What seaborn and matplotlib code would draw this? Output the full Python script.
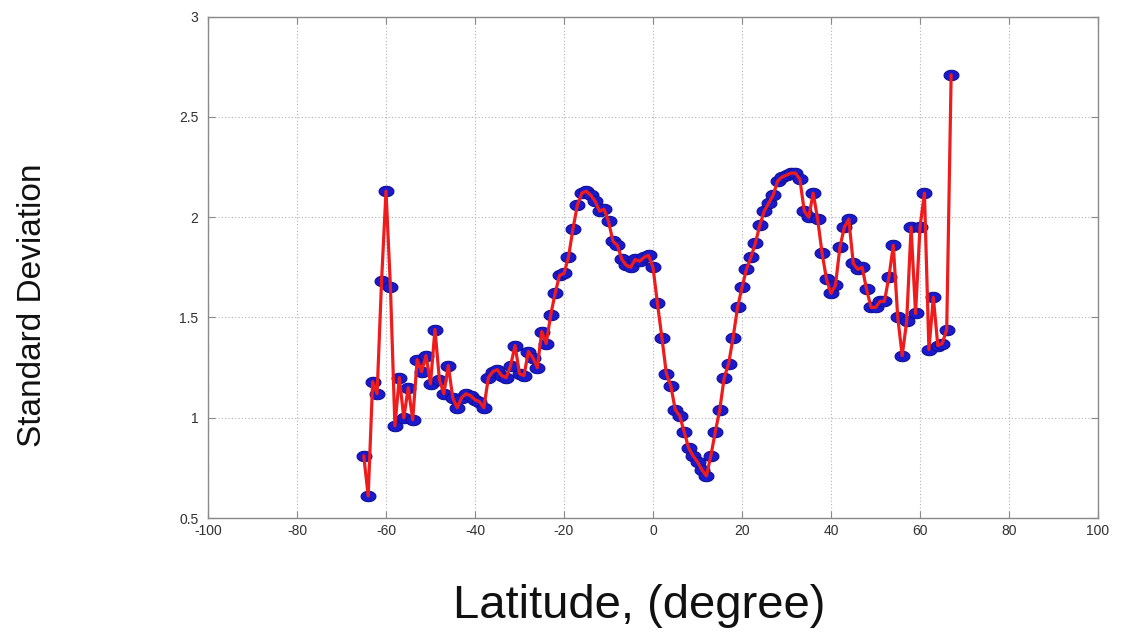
import numpy as np
import pandas as pd
import matplotlib
matplotlib.use("Agg")
import matplotlib.pyplot as plt
from matplotlib.path import Path
import seaborn as sns

latitude = [-65, -64, -63, -62, -61, -60, -59, -58, -57, -56, -55, -54, -53, -52, -51,
            -50, -49, -48, -47, -46, -45, -44, -43, -42, -41, -40, -39, -38, -37, -36,
            -35, -34, -33, -32, -31, -30, -29, -28, -27, -26, -25, -24, -23, -22, -21,
            -20, -19, -18, -17, -16, -15, -14, -13, -12, -11, -10, -9, -8, -7, -6,
            -5, -4, -3, -2, -1, 0, 1, 2, 3, 4, 5, 6, 7, 8, 9,
            10, 11, 12, 13, 14, 15, 16, 17, 18, 19, 20, 21, 22, 23, 24,
            25, 26, 27, 28, 29, 30, 31, 32, 33, 34, 35, 36, 37, 38, 39,
            40, 41, 42, 43, 44, 45, 46, 47, 48, 49, 50, 51, 52, 53, 54,
            55, 56, 57, 58, 59, 60, 61, 62, 63, 64, 65, 66, 67]

std_dev = [0.81, 0.61, 1.18, 1.12, 1.68, 2.13, 1.65, 0.96, 1.20, 1.00, 1.15, 0.99, 1.29, 1.23, 1.31,
           1.17, 1.44, 1.19, 1.12, 1.26, 1.10, 1.05, 1.10, 1.12, 1.11, 1.09, 1.08, 1.05, 1.20, 1.23,
           1.24, 1.21, 1.20, 1.26, 1.36, 1.22, 1.21, 1.33, 1.30, 1.25, 1.43, 1.37, 1.51, 1.62, 1.71,
           1.72, 1.80, 1.94, 2.06, 2.12, 2.13, 2.11, 2.08, 2.03, 2.04, 1.98, 1.88, 1.86, 1.79, 1.76,
           1.75, 1.79, 1.78, 1.80, 1.81, 1.75, 1.57, 1.40, 1.22, 1.16, 1.04, 1.01, 0.93, 0.85, 0.81,
           0.78, 0.74, 0.71, 0.81, 0.93, 1.04, 1.20, 1.27, 1.40, 1.55, 1.65, 1.74, 1.80, 1.87, 1.96,
           2.03, 2.07, 2.11, 2.18, 2.20, 2.21, 2.22, 2.22, 2.19, 2.03, 2.00, 2.12, 1.99, 1.82, 1.69,
           1.62, 1.66, 1.85, 1.95, 1.99, 1.77, 1.74, 1.75, 1.64, 1.55, 1.55, 1.58, 1.58, 1.70, 1.86,
           1.50, 1.31, 1.48, 1.95, 1.52, 1.95, 2.12, 1.34, 1.60, 1.36, 1.37, 1.44, 2.71]

x_ticks = [-100, -80, -60, -40, -20, 0, 20, 40, 60, 80, 100]
x_tick_labels = ["-100", "-80", "-60", "-40", "-20", "0", "20", "40", "60", "80", "100"]
y_ticks = [0.5, 1.0, 1.5, 2.0, 2.5, 3.0]
y_tick_labels = ["0.5", "1", "1.5", "2", "2.5", "3"]

df = pd.DataFrame({"lat": latitude, "sd": std_dev})

sns.set_theme(style="white")
plt.rcParams["font.family"] = ["Liberation Sans", "DejaVu Sans"]

fig = plt.figure(figsize=(11.21, 6.33), dpi=100)
ax = fig.add_axes([208 / 1121, 1 - 518 / 633, 890 / 1121, (518 - 16.7) / 633])

# horizontally elongated ellipse marker
t = np.linspace(0, 2 * np.pi, 40)
ell = Path(np.column_stack([np.cos(t), 0.70 * np.sin(t)]), closed=True)

sns.scatterplot(data=df, x="lat", y="sd", ax=ax, marker=ell, s=115,
                color="#1a1acc", edgecolor="#10109a", linewidth=0.8, zorder=3, legend=False)
sns.lineplot(data=df, x="lat", y="sd", ax=ax, color="#ee1c1c", linewidth=2.3,
             zorder=4, legend=False)

ax.set_xlim(-100, 100)
ax.set_ylim(0.5, 3.0)
ax.set_xticks(x_ticks)
ax.set_xticklabels(x_tick_labels)
ax.set_yticks(y_ticks)
ax.set_yticklabels(y_tick_labels)

ax.grid(True, linestyle=(0, (1, 2)), color="#b0b0b0", linewidth=0.8)
ax.set_axisbelow(True)
for sp in ax.spines.values():
    sp.set_visible(True)
    sp.set_color("#8a8a8a")
    sp.set_linewidth(1.0)

ax.tick_params(axis="both", which="both", direction="in", length=5, width=0.8,
               color="#8a8a8a", labelsize=10, labelcolor="#303030",
               top=True, right=True, bottom=True, left=True)
ax.tick_params(axis="x", pad=4)
ax.tick_params(axis="y", pad=7)

ax.set_xlabel("Latitude, (degree)", fontsize=34, color="#111111")
ax.xaxis.label.set_va("center")
ax.xaxis.set_label_coords(0.484, -0.176)

ax.set_ylabel("Standard Deviation", fontsize=24, color="#111111")
ax.yaxis.label.set_va("center")
ax.yaxis.set_label_coords(-0.197, 0.425)

fig.savefig("out.png", dpi=100, facecolor="white")
